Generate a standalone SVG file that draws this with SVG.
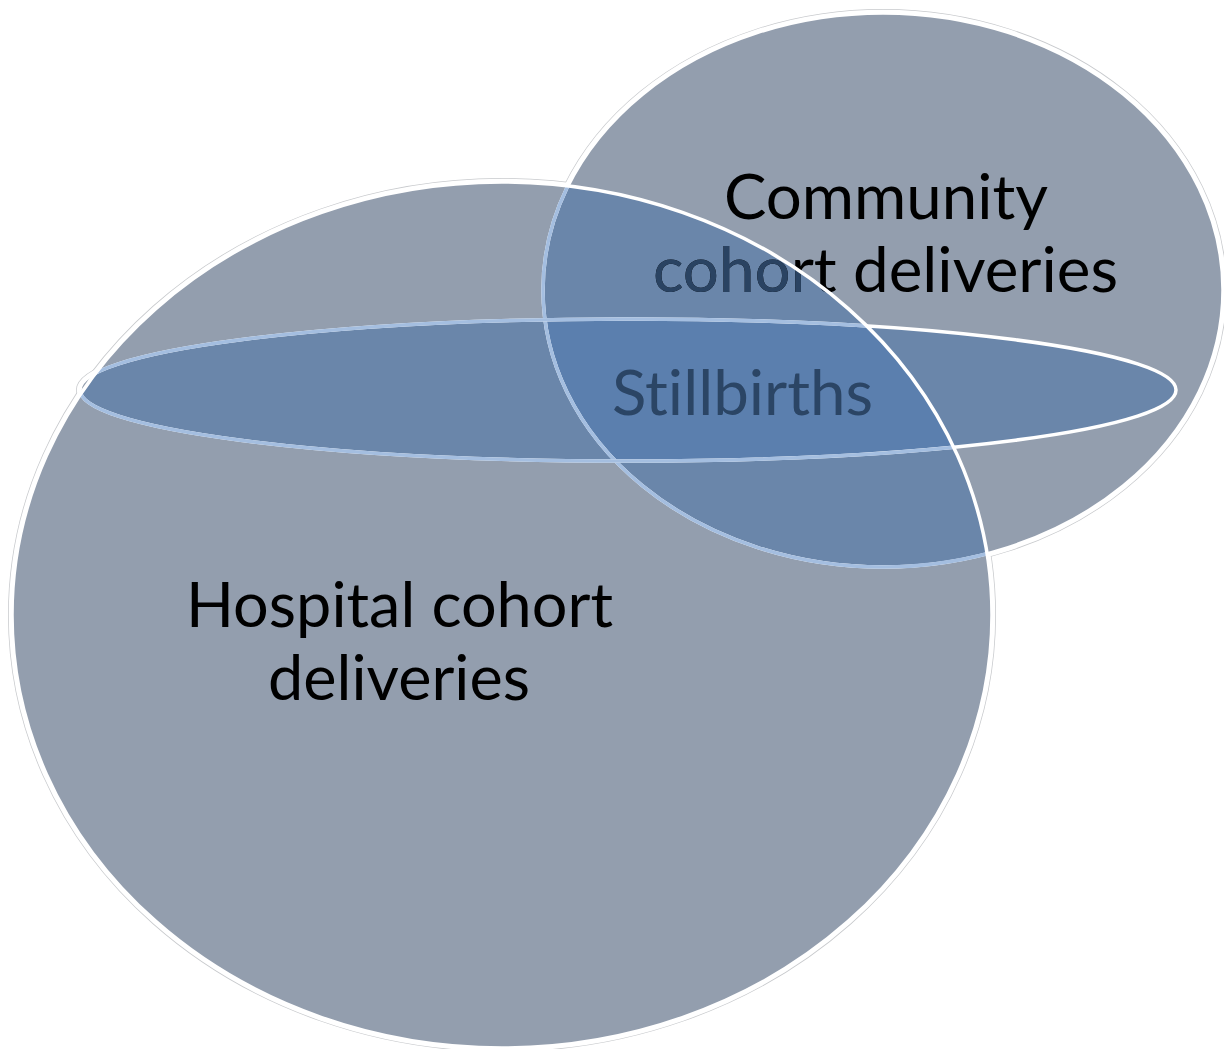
<svg xmlns="http://www.w3.org/2000/svg" width="1224" height="1049" viewBox="0 0 1224 1049">
<style>
.lbl{font-family:Lato,"Open Sans","Liberation Sans",sans-serif;font-size:61px;font-variant-ligatures:none;font-feature-settings:"liga" 0,"dlig" 0}
.halo1{fill:none;stroke:#c8cacd;stroke-width:8}
.halo2{fill:none;stroke:#ffffff;stroke-width:6.5}
.base{fill:#939eae}
.ov{fill:#6a86aa}
.tri{fill:#5b7fae}
.sw{fill:none;stroke:#ffffff;stroke-width:3.5}
.sb{fill:none;stroke:#a4bee0;stroke-width:3.5}
</style>
<defs>
<ellipse id="eH" cx="502" cy="615" rx="490" ry="433"/>
<ellipse id="eC" cx="883" cy="290" rx="340" ry="277"/>
<ellipse id="eS" cx="628" cy="390" rx="548" ry="71"/>
<clipPath id="clipH"><use href="#eH"/></clipPath>
<clipPath id="clipC"><use href="#eC"/></clipPath>
</defs>
<rect width="1224" height="1049" fill="#ffffff"/>
<g id="halo">
<use href="#eH" class="halo1"/><use href="#eC" class="halo1"/><use href="#eS" class="halo1"/>
<use href="#eH" class="halo2"/><use href="#eC" class="halo2"/><use href="#eS" class="halo2"/>
</g>
<g id="hospital-fill"><use href="#eH" class="base"/></g>
<g id="community-fill"><use href="#eC" class="base"/></g>
<g id="stillbirths-fill"><use href="#eS" class="base"/></g>
<g id="overlaps">
<g clip-path="url(#clipH)"><use href="#eC" class="ov"/><use href="#eS" class="ov"/></g>
<g clip-path="url(#clipC)"><use href="#eS" class="ov"/></g>
<g clip-path="url(#clipH)"><g clip-path="url(#clipC)"><use href="#eS" class="tri"/></g></g>
</g>
<g id="community">
<use href="#eC" class="sw"/>
<g clip-path="url(#clipH)"><use href="#eC" class="sb"/></g>
<text class="lbl" x="724" y="219" textLength="324" lengthAdjust="spacingAndGlyphs" fill="#000">Community</text>
<text class="lbl" x="653" y="292" textLength="465" lengthAdjust="spacingAndGlyphs" fill="#000">cohort deliveries</text>
<g clip-path="url(#clipH)">
<text class="lbl" x="653" y="292" textLength="465" lengthAdjust="spacingAndGlyphs" fill="#2a4362">cohort deliveries</text>
</g>
</g>
<g id="stillbirths">
<use href="#eS" class="sw"/>
<g clip-path="url(#clipH)"><use href="#eS" class="sb"/></g>
<text class="lbl" x="612" y="415" textLength="261" lengthAdjust="spacingAndGlyphs" fill="#2b4565">Stillbirths</text>
</g>
<g id="hospital">
<use href="#eH" class="sw"/>
<text class="lbl" x="186" y="627" textLength="427" lengthAdjust="spacingAndGlyphs" fill="#000">Hospital cohort</text>
<text class="lbl" x="268" y="700" textLength="262" lengthAdjust="spacingAndGlyphs" fill="#000">deliveries</text>
</g>
<g id="connectors"/>
</svg>
